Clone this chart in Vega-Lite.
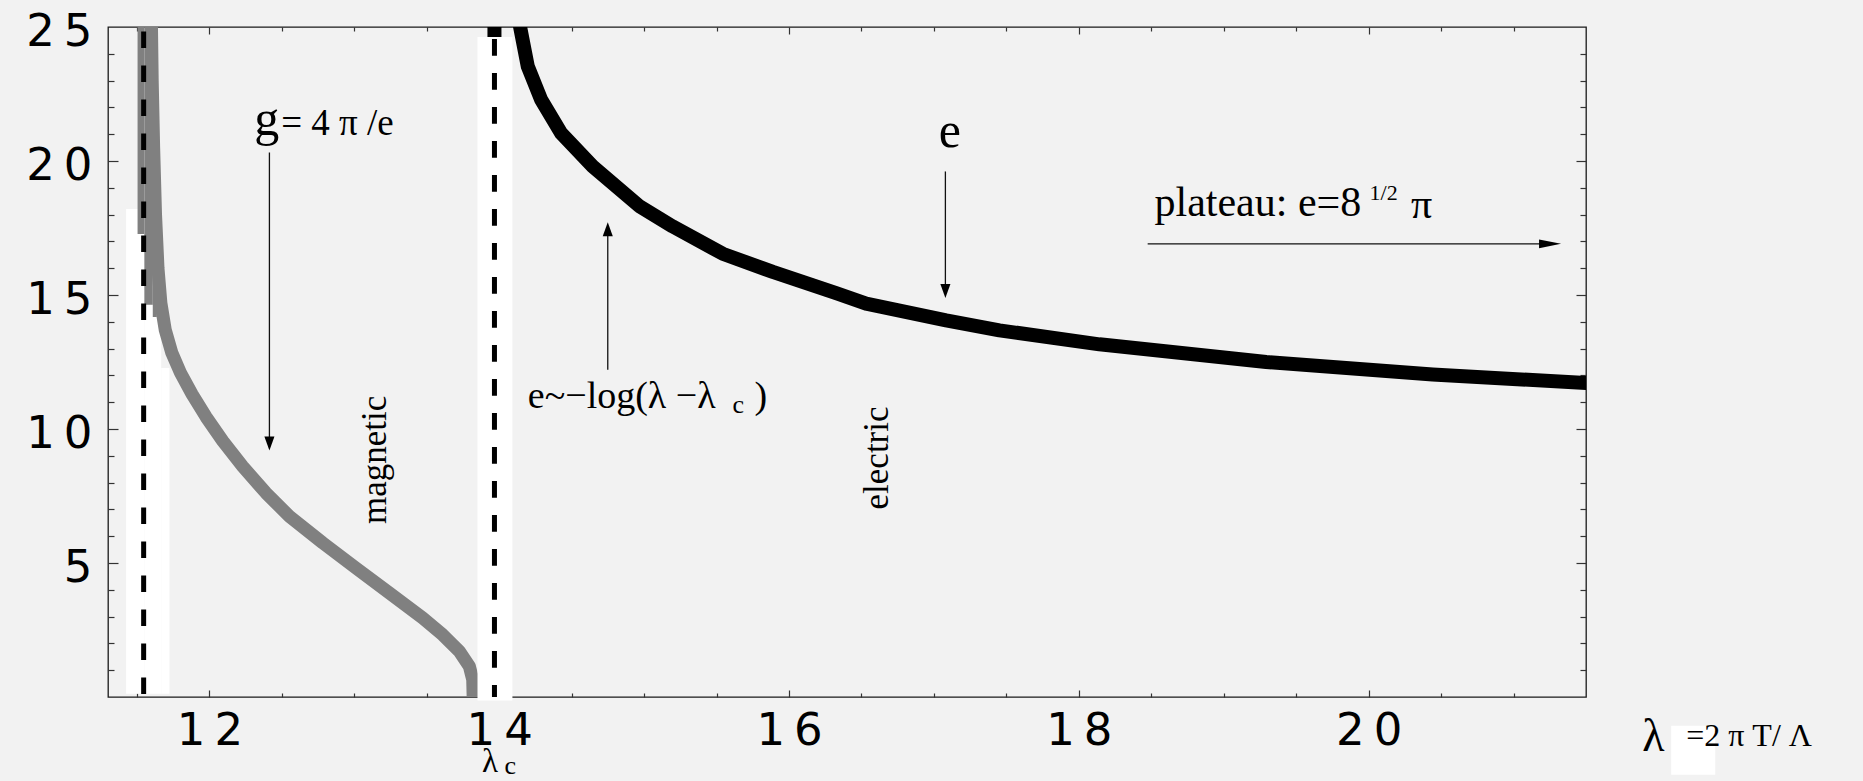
{
  "$schema": "https://vega.github.io/schema/vega-lite/v6.json",
  "width": 1478,
  "height": 670,
  "autosize": "none",
  "padding": {"left": 108, "top": 27, "right": 277, "bottom": 84},
  "background": "#f2f2f2",
  "config": {
    "view": {"stroke": "#1a1a1a", "strokeWidth": 1.3, "fill": "#f2f2f2"},
    "text": {"font": "Liberation Serif", "fill": "#000000"}
  },
  "resolve": {"axis": {"x": "independent", "y": "independent"}},
  "datasets": {
    "whitesLow": [
      {"lam": 11.425, "lam2": 11.551, "val": 0.12, "val2": 18.21},
      {"lam": 11.551, "lam2": 11.667, "val": 0.12, "val2": 14.64},
      {"lam": 11.667, "lam2": 11.724, "val": 0.12, "val2": 12.28},
      {"lam": 22.088, "lam2": 22.392, "val": -2.90, "val2": -1.07}
    ],
    "whitesHigh": [
      {"lam": 13.850, "lam2": 14.091, "val": -0.13, "val2": 24.63}
    ],
    "greyStrips": [
      {"lam": 11.504, "lam2": 11.551, "val": 17.28, "val2": 25},
      {"lam": 11.551, "lam2": 11.609, "val": 14.64, "val2": 25},
      {"lam": 11.609, "lam2": 11.637, "val": 14.18, "val2": 25}
    ],
    "magnetic": [
      {"i": 0, "lam": 11.597, "g": 27.0},
      {"i": 1, "lam": 11.600, "g": 25.0},
      {"i": 2, "lam": 11.605, "g": 23.0},
      {"i": 3, "lam": 11.615, "g": 20.5},
      {"i": 4, "lam": 11.628, "g": 18.0},
      {"i": 5, "lam": 11.645, "g": 16.0},
      {"i": 6, "lam": 11.665, "g": 14.7},
      {"i": 7, "lam": 11.695, "g": 13.7},
      {"i": 8, "lam": 11.740, "g": 12.85},
      {"i": 9, "lam": 11.800, "g": 12.10},
      {"i": 10, "lam": 11.880, "g": 11.30},
      {"i": 11, "lam": 11.977, "g": 10.45},
      {"i": 12, "lam": 12.092, "g": 9.55},
      {"i": 13, "lam": 12.230, "g": 8.60},
      {"i": 14, "lam": 12.391, "g": 7.61},
      {"i": 15, "lam": 12.552, "g": 6.74},
      {"i": 16, "lam": 12.782, "g": 5.75},
      {"i": 17, "lam": 13.012, "g": 4.81},
      {"i": 18, "lam": 13.242, "g": 3.88},
      {"i": 19, "lam": 13.472, "g": 2.95},
      {"i": 20, "lam": 13.610, "g": 2.32},
      {"i": 21, "lam": 13.725, "g": 1.70},
      {"i": 22, "lam": 13.794, "g": 1.14},
      {"i": 23, "lam": 13.817, "g": 0.65},
      {"i": 24, "lam": 13.820, "g": 0.0}
    ],
    "electric": [
      {"i": 0, "lam": 13.967, "e": -0.5},
      {"i": 1, "lam": 13.967, "e": 27.0},
      {"i": 2, "lam": 14.100, "e": 27.0},
      {"i": 3, "lam": 14.144, "e": 25.0},
      {"i": 4, "lam": 14.197, "e": 23.53},
      {"i": 5, "lam": 14.289, "e": 22.29},
      {"i": 6, "lam": 14.427, "e": 21.04},
      {"i": 7, "lam": 14.645, "e": 19.80},
      {"i": 8, "lam": 14.968, "e": 18.31},
      {"i": 9, "lam": 15.197, "e": 17.56},
      {"i": 10, "lam": 15.542, "e": 16.54},
      {"i": 11, "lam": 15.888, "e": 15.86},
      {"i": 12, "lam": 16.325, "e": 15.07},
      {"i": 13, "lam": 16.532, "e": 14.68},
      {"i": 14, "lam": 17.084, "e": 14.05},
      {"i": 15, "lam": 17.452, "e": 13.68},
      {"i": 16, "lam": 18.142, "e": 13.16},
      {"i": 17, "lam": 19.293, "e": 12.50},
      {"i": 18, "lam": 20.442, "e": 12.03},
      {"i": 19, "lam": 21.501, "e": 11.72},
      {"i": 20, "lam": 21.600, "e": 11.69}
    ],
    "critical": [
      {"lam": 11.546, "side": "left"},
      {"lam": 13.967, "side": "right"}
    ],
    "arrows": [
      {"lam": 12.414, "val": 20.32, "lam2": 12.414, "val2": 9.6},
      {"lam": 17.079, "val": 19.61, "lam2": 17.079, "val2": 15.3},
      {"lam": 14.749, "val": 12.21, "lam2": 14.749, "val2": 17.3},
      {"lam": 18.475, "val": 16.91, "lam2": 21.25, "val2": 16.91}
    ],
    "headsDown": [
      {"lam": 12.414, "val": 9.20},
      {"lam": 17.079, "val": 14.89}
    ],
    "headsUp": [
      {"lam": 14.749, "val": 17.71}
    ],
    "headsRight": [
      {"lam": 21.328, "val": 16.91}
    ],
    "notes": [
      {"t": "e", "lam": 17.110, "val": 20.54, "kind": "big"},
      {"t": "λ", "lam": 21.966, "val": -2.03, "kind": "lam"},
      {"t": "g", "lam": 12.310, "val": 20.98, "kind": "g"},
      {"t": "plateau: e=8", "lam": 18.522, "val": 17.93, "kind": "label"},
      {"t": "π", "lam": 20.293, "val": 17.87, "kind": "label"},
      {"t": "e~−log(λ −λ", "lam": 14.197, "val": 10.78, "kind": "formula"},
      {"t": ")", "lam": 15.761, "val": 10.78, "kind": "formula"},
      {"t": "λ", "lam": 13.936, "val": -2.78, "kind": "lamc"},
      {"t": "magnetic", "lam": 13.219, "val": 8.85, "kind": "rot"},
      {"t": "electric", "lam": 16.681, "val": 8.92, "kind": "rot"},
      {"t": "= 4 π /e", "lam": 12.495, "val": 20.98, "kind": "mid"},
      {"t": "=2  π  T/  Λ", "lam": 22.191, "val": -1.84, "kind": "axis"},
      {"t": "c", "lam": 15.609, "val": 10.60, "kind": "sub"},
      {"t": "c", "lam": 14.036, "val": -2.86, "kind": "sub"},
      {"t": "1/2", "lam": 20.006, "val": 18.56, "kind": "sup"}
    ]
  },
  "layer": [
    {
      "data": {"name": "whitesLow"},
      "mark": {"type": "rect", "fill": "#ffffff"},
      "encoding": {
        "x": {"field": "lam", "type": "quantitative",
              "scale": {"domain": [11.3, 21.5], "nice": false, "zero": false},
              "axis": {"orient": "bottom", "values": [12, 14, 16, 18, 20], "ticks": false, "domain": false, "grid": false, "title": null,
                       "labelFont": "DejaVu Sans", "labelFontSize": 45, "labelColor": "#000000", "labelPadding": 11,
                       "labelFlush": false, "labelOverlap": false, "labelExpr": "join(split(datum.label, ''), '\u2009')"}},
        "x2": {"field": "lam2"},
        "y": {"field": "val", "type": "quantitative",
              "scale": {"domain": [0, 25], "nice": false, "zero": false},
              "axis": {"orient": "left", "values": [5, 10, 15, 20, 25], "ticks": false, "domain": false, "grid": false, "title": null,
                       "labelFont": "DejaVu Sans", "labelFontSize": 45, "labelColor": "#000000", "labelPadding": 16, "labelOffset": 4,
                       "labelFlush": false, "labelOverlap": false, "labelExpr": "join(split(datum.label, ''), '\u2009')"}},
        "y2": {"field": "val2"}
      }
    },
    {
      "data": {"name": "greyStrips"},
      "mark": {"type": "rect", "fill": "#808080"},
      "encoding": {
        "x": {"field": "lam", "type": "quantitative",
              "scale": {"domain": [11.3, 21.5], "nice": false, "zero": false},
              "axis": {"orient": "bottom", "values": [12, 14, 16, 18, 20], "labels": false, "domain": false, "grid": false, "title": null,
                       "ticks": true, "tickSize": 7, "offset": -7, "tickColor": "#333333", "tickWidth": 1.2}},
        "x2": {"field": "lam2"},
        "y": {"field": "val", "type": "quantitative",
              "scale": {"domain": [0, 25], "nice": false, "zero": false},
              "axis": {"orient": "left", "values": [5, 10, 15, 20], "labels": false, "domain": false, "grid": false, "title": null,
                       "ticks": true, "tickSize": 10, "offset": -10, "tickColor": "#333333", "tickWidth": 1.2}},
        "y2": {"field": "val2"}
      }
    },
    {
      "data": {"name": "magnetic"},
      "mark": {"type": "line", "stroke": "#808080", "strokeWidth": 13, "clip": true, "strokeJoin": "round"},
      "encoding": {
        "x": {"field": "lam", "type": "quantitative",
              "scale": {"domain": [11.3, 21.5], "nice": false, "zero": false},
              "axis": {"orient": "bottom", "values": [11.5, 12.5, 13, 13.5, 14.5, 15, 15.5, 16.5, 17, 17.5, 18.5, 19, 19.5, 20.5, 21],
                       "labels": false, "domain": false, "grid": false, "title": null,
                       "ticks": true, "tickSize": 4, "offset": -4, "tickColor": "#333333", "tickWidth": 1.2}},
        "y": {"field": "g", "type": "quantitative",
              "scale": {"domain": [0, 25], "nice": false, "zero": false},
              "axis": {"orient": "left", "values": [1, 2, 3, 4, 6, 7, 8, 9, 11, 12, 13, 14, 16, 17, 18, 19, 21, 22, 23, 24],
                       "labels": false, "domain": false, "grid": false, "title": null,
                       "ticks": true, "tickSize": 6, "offset": -6, "tickColor": "#333333", "tickWidth": 1.2}},
        "order": {"field": "i", "type": "quantitative"}
      }
    },
    {
      "data": {"name": "electric"},
      "mark": {"type": "line", "stroke": "#000000", "strokeWidth": 14, "clip": true, "strokeJoin": "round"},
      "encoding": {
        "x": {"field": "lam", "type": "quantitative",
              "scale": {"domain": [11.3, 21.5], "nice": false, "zero": false},
              "axis": {"orient": "top", "values": [12, 14, 16, 18, 20], "labels": false, "domain": false, "grid": false, "title": null,
                       "ticks": true, "tickSize": 7, "offset": -7, "tickColor": "#333333", "tickWidth": 1.2}},
        "y": {"field": "e", "type": "quantitative",
              "scale": {"domain": [0, 25], "nice": false, "zero": false},
              "axis": {"orient": "right", "values": [5, 10, 15, 20], "labels": false, "domain": false, "grid": false, "title": null,
                       "ticks": true, "tickSize": 10, "offset": -10, "tickColor": "#333333", "tickWidth": 1.2}},
        "order": {"field": "i", "type": "quantitative"}
      }
    },
    {
      "data": {"name": "whitesHigh"},
      "mark": {"type": "rect", "fill": "#ffffff"},
      "encoding": {
        "x": {"field": "lam", "type": "quantitative", "scale": {"domain": [11.3, 21.5], "nice": false, "zero": false}, "axis": null},
        "x2": {"field": "lam2"},
        "y": {"field": "val", "type": "quantitative", "scale": {"domain": [0, 25], "nice": false, "zero": false}, "axis": null},
        "y2": {"field": "val2"}
      }
    },
    {
      "data": {"name": "critical"},
      "transform": [{"filter": "datum.side === 'left'"}],
      "mark": {"type": "rule", "stroke": "#000000", "strokeWidth": 5, "strokeDash": [16.7, 17.3], "strokeDashOffset": -4.4},
      "encoding": {
        "x": {"field": "lam", "type": "quantitative", "scale": {"domain": [11.3, 21.5], "nice": false, "zero": false}, "axis": null}
      }
    },
    {
      "data": {"name": "critical"},
      "transform": [{"filter": "datum.side === 'right'"}],
      "mark": {"type": "rule", "stroke": "#000000", "strokeWidth": 5, "strokeDash": [16.7, 17.3], "strokeDashOffset": -12},
      "encoding": {
        "x": {"field": "lam", "type": "quantitative", "scale": {"domain": [11.3, 21.5], "nice": false, "zero": false}, "axis": null}
      }
    },
    {
      "data": {"name": "arrows"},
      "mark": {"type": "rule", "stroke": "#111111", "strokeWidth": 1.3},
      "encoding": {
        "x": {"field": "lam", "type": "quantitative",
              "scale": {"domain": [11.3, 21.5], "nice": false, "zero": false},
              "axis": {"orient": "top", "values": [11.5, 12.5, 13, 13.5, 14.5, 15, 15.5, 16.5, 17, 17.5, 18.5, 19, 19.5, 20.5, 21],
                       "labels": false, "domain": false, "grid": false, "title": null,
                       "ticks": true, "tickSize": 4, "offset": -4, "tickColor": "#333333", "tickWidth": 1.2}},
        "x2": {"field": "lam2"},
        "y": {"field": "val", "type": "quantitative",
              "scale": {"domain": [0, 25], "nice": false, "zero": false},
              "axis": {"orient": "right", "values": [1, 2, 3, 4, 6, 7, 8, 9, 11, 12, 13, 14, 16, 17, 18, 19, 21, 22, 23, 24],
                       "labels": false, "domain": false, "grid": false, "title": null,
                       "ticks": true, "tickSize": 6, "offset": -6, "tickColor": "#333333", "tickWidth": 1.2}},
        "y2": {"field": "val2"}
      }
    },
    {
      "data": {"name": "headsDown"},
      "mark": {"type": "point", "shape": "M0,0L-0.36,-1L0.36,-1Z", "filled": true, "fill": "#000000", "strokeWidth": 0, "size": 784, "opacity": 1},
      "encoding": {
        "x": {"field": "lam", "type": "quantitative", "scale": {"domain": [11.3, 21.5], "nice": false, "zero": false}, "axis": null},
        "y": {"field": "val", "type": "quantitative", "scale": {"domain": [0, 25], "nice": false, "zero": false}, "axis": null}
      }
    },
    {
      "data": {"name": "headsUp"},
      "mark": {"type": "point", "shape": "M0,0L-0.36,1L0.36,1Z", "filled": true, "fill": "#000000", "strokeWidth": 0, "size": 784, "opacity": 1},
      "encoding": {
        "x": {"field": "lam", "type": "quantitative", "scale": {"domain": [11.3, 21.5], "nice": false, "zero": false}, "axis": null},
        "y": {"field": "val", "type": "quantitative", "scale": {"domain": [0, 25], "nice": false, "zero": false}, "axis": null}
      }
    },
    {
      "data": {"name": "headsRight"},
      "mark": {"type": "point", "shape": "M0,0L-1,-0.2L-1,0.2Z", "filled": true, "fill": "#000000", "strokeWidth": 0, "size": 1936, "opacity": 1},
      "encoding": {
        "x": {"field": "lam", "type": "quantitative", "scale": {"domain": [11.3, 21.5], "nice": false, "zero": false}, "axis": null},
        "y": {"field": "val", "type": "quantitative", "scale": {"domain": [0, 25], "nice": false, "zero": false}, "axis": null}
      }
    },
    {
      "data": {"name": "notes"},
      "transform": [{"filter": "datum.kind === 'big'"}],
      "mark": {"type": "text", "fontSize": 50, "align": "center", "baseline": "alphabetic"},
      "encoding": {
        "x": {"field": "lam", "type": "quantitative", "scale": {"domain": [11.3, 21.5], "nice": false, "zero": false}, "axis": null},
        "y": {"field": "val", "type": "quantitative", "scale": {"domain": [0, 25], "nice": false, "zero": false}, "axis": null},
        "text": {"field": "t"}
      }
    },
    {
      "data": {"name": "notes"},
      "transform": [{"filter": "datum.kind === 'lam'"}],
      "mark": {"type": "text", "fontSize": 46, "align": "center", "baseline": "alphabetic"},
      "encoding": {
        "x": {"field": "lam", "type": "quantitative", "scale": {"domain": [11.3, 21.5], "nice": false, "zero": false}, "axis": null},
        "y": {"field": "val", "type": "quantitative", "scale": {"domain": [0, 25], "nice": false, "zero": false}, "axis": null},
        "text": {"field": "t"}
      }
    },
    {
      "data": {"name": "notes"},
      "transform": [{"filter": "datum.kind === 'g'"}],
      "mark": {"type": "text", "fontSize": 50, "align": "left", "baseline": "alphabetic"},
      "encoding": {
        "x": {"field": "lam", "type": "quantitative", "scale": {"domain": [11.3, 21.5], "nice": false, "zero": false}, "axis": null},
        "y": {"field": "val", "type": "quantitative", "scale": {"domain": [0, 25], "nice": false, "zero": false}, "axis": null},
        "text": {"field": "t"}
      }
    },
    {
      "data": {"name": "notes"},
      "transform": [{"filter": "datum.kind === 'label'"}],
      "mark": {"type": "text", "fontSize": 42, "align": "left", "baseline": "alphabetic"},
      "encoding": {
        "x": {"field": "lam", "type": "quantitative", "scale": {"domain": [11.3, 21.5], "nice": false, "zero": false}, "axis": null},
        "y": {"field": "val", "type": "quantitative", "scale": {"domain": [0, 25], "nice": false, "zero": false}, "axis": null},
        "text": {"field": "t"}
      }
    },
    {
      "data": {"name": "notes"},
      "transform": [{"filter": "datum.kind === 'formula'"}],
      "mark": {"type": "text", "fontSize": 38, "align": "left", "baseline": "alphabetic"},
      "encoding": {
        "x": {"field": "lam", "type": "quantitative", "scale": {"domain": [11.3, 21.5], "nice": false, "zero": false}, "axis": null},
        "y": {"field": "val", "type": "quantitative", "scale": {"domain": [0, 25], "nice": false, "zero": false}, "axis": null},
        "text": {"field": "t"}
      }
    },
    {
      "data": {"name": "notes"},
      "transform": [{"filter": "datum.kind === 'lamc'"}],
      "mark": {"type": "text", "fontSize": 33, "align": "center", "baseline": "alphabetic"},
      "encoding": {
        "x": {"field": "lam", "type": "quantitative", "scale": {"domain": [11.3, 21.5], "nice": false, "zero": false}, "axis": null},
        "y": {"field": "val", "type": "quantitative", "scale": {"domain": [0, 25], "nice": false, "zero": false}, "axis": null},
        "text": {"field": "t"}
      }
    },
    {
      "data": {"name": "notes"},
      "transform": [{"filter": "datum.kind === 'rot'"}],
      "mark": {"type": "text", "fontSize": 35, "align": "center", "baseline": "alphabetic", "angle": 270},
      "encoding": {
        "x": {"field": "lam", "type": "quantitative", "scale": {"domain": [11.3, 21.5], "nice": false, "zero": false}, "axis": null},
        "y": {"field": "val", "type": "quantitative", "scale": {"domain": [0, 25], "nice": false, "zero": false}, "axis": null},
        "text": {"field": "t"}
      }
    },
    {
      "data": {"name": "notes"},
      "transform": [{"filter": "datum.kind === 'mid'"}],
      "mark": {"type": "text", "fontSize": 37, "align": "left", "baseline": "alphabetic"},
      "encoding": {
        "x": {"field": "lam", "type": "quantitative", "scale": {"domain": [11.3, 21.5], "nice": false, "zero": false}, "axis": null},
        "y": {"field": "val", "type": "quantitative", "scale": {"domain": [0, 25], "nice": false, "zero": false}, "axis": null},
        "text": {"field": "t"}
      }
    },
    {
      "data": {"name": "notes"},
      "transform": [{"filter": "datum.kind === 'axis'"}],
      "mark": {"type": "text", "fontSize": 32, "align": "left", "baseline": "alphabetic"},
      "encoding": {
        "x": {"field": "lam", "type": "quantitative", "scale": {"domain": [11.3, 21.5], "nice": false, "zero": false}, "axis": null},
        "y": {"field": "val", "type": "quantitative", "scale": {"domain": [0, 25], "nice": false, "zero": false}, "axis": null},
        "text": {"field": "t"}
      }
    },
    {
      "data": {"name": "notes"},
      "transform": [{"filter": "datum.kind === 'sub'"}],
      "mark": {"type": "text", "fontSize": 26, "align": "left", "baseline": "alphabetic"},
      "encoding": {
        "x": {"field": "lam", "type": "quantitative", "scale": {"domain": [11.3, 21.5], "nice": false, "zero": false}, "axis": null},
        "y": {"field": "val", "type": "quantitative", "scale": {"domain": [0, 25], "nice": false, "zero": false}, "axis": null},
        "text": {"field": "t"}
      }
    },
    {
      "data": {"name": "notes"},
      "transform": [{"filter": "datum.kind === 'sup'"}],
      "mark": {"type": "text", "fontSize": 22, "align": "left", "baseline": "alphabetic"},
      "encoding": {
        "x": {"field": "lam", "type": "quantitative", "scale": {"domain": [11.3, 21.5], "nice": false, "zero": false}, "axis": null},
        "y": {"field": "val", "type": "quantitative", "scale": {"domain": [0, 25], "nice": false, "zero": false}, "axis": null},
        "text": {"field": "t"}
      }
    }
  ]
}
